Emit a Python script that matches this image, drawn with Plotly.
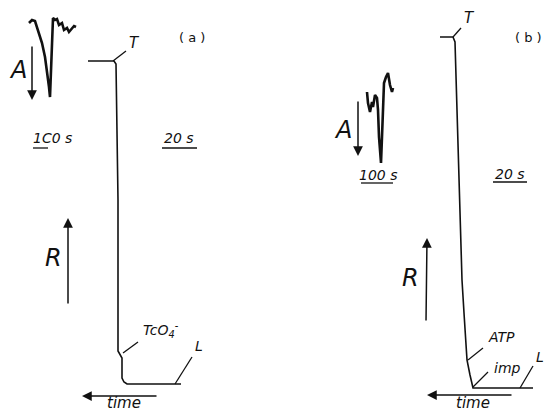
import plotly.graph_objects as go

# ---- data (page-pixel coordinate system of the scanned figure) ----
# Panel (a) main recorder trace (R signal)
a_main_x = [88, 114, 116, 118, 118, 121, 122, 122, 124, 127, 181]
a_main_y = [61, 61, 64, 200, 351, 356, 358, 378, 382, 384, 384]
# Panel (a) absorbance inset trace
a_abs_x = [29, 32, 35, 37, 39, 42, 45, 47, 49, 50, 51, 52, 53, 55, 57, 59, 62, 64, 67, 69, 72, 74, 76]
a_abs_y = [23, 20, 21, 27, 33, 43, 57, 70, 87, 97, 67, 33, 18, 20, 19, 25, 23, 30, 28, 32, 28, 26, 27]

# Panel (b) main recorder trace
b_main_x = [440, 453, 455, 458, 462, 464, 466, 467, 470, 473, 533]
b_main_y = [37, 37, 42, 140, 280, 313, 340, 360, 375, 388, 388]
# Panel (b) absorbance inset trace
b_abs_x = [367, 368, 370, 372, 373, 375, 377, 378, 379, 381, 382, 383, 384, 386, 388, 390, 392, 393]
b_abs_y = [92, 103, 112, 102, 107, 95, 98, 110, 137, 163, 137, 103, 83, 77, 73, 85, 92, 88]

# leader lines: (x0, y0, x1, y1)
leaders = [
    (113, 61, 126, 51),    # T (a)
    (123, 353, 138, 342),  # TcO4- (a)
    (175, 384, 192, 357),  # L (a)
    (453, 37, 461, 28),    # T (b)
    (468, 360, 483, 348),  # ATP (b)
    (473, 387, 488, 372),  # imp (b)
    (520, 388, 533, 366),  # L (b)
]
# scale bars (x0, x1, y)
scale_bars = [(33, 48, 148), (162, 197, 148), (361, 393, 183), (493, 527, 182)]

# text labels: (text, x, y, size, italic)
labels = [
    ("( a )", 192, 37, 13, False),
    ("( b )", 528, 37, 13, False),
    ("T", 134, 43, 15, True),
    ("T", 469, 18, 15, True),
    ("A", 18, 70, 24, True),
    ("A", 343, 130, 24, True),
    ("R", 53, 258, 24, True),
    ("R", 410, 278, 24, True),
    ("1C0 s", 52, 138, 14, True),
    ("20 s", 179, 138, 14, True),
    ("100 s", 378, 175, 14, True),
    ("20 s", 510, 174, 14, True),
    ("TcO<sub>4</sub><sup>-</sup>", 161, 330, 14, True),
    ("L", 199, 346, 14, True),
    ("ATP", 501, 337, 14, True),
    ("imp", 507, 368, 14, True),
    ("L", 540, 357, 14, True),
    ("time", 124, 403, 15, True),
    ("time", 473, 403, 15, True),
]
# arrows: (tail_x, tail_y, head_x, head_y)
arrows = [
    (32, 45, 32, 100),     # A (a)
    (68, 305, 68, 218),    # R (a)
    (158, 396, 82, 396),   # time (a)
    (358, 100, 358, 156),  # A (b)
    (426, 322, 427, 238),  # R (b)
    (513, 395, 427, 395),  # time (b)
]

fig = go.Figure()
line_col = "#111111"
fig.add_trace(go.Scatter(x=a_main_x, y=a_main_y, mode="lines",
                         line=dict(color=line_col, width=1.6), hoverinfo="skip"))
fig.add_trace(go.Scatter(x=b_main_x, y=b_main_y, mode="lines",
                         line=dict(color=line_col, width=1.6), hoverinfo="skip"))
fig.add_trace(go.Scatter(x=a_abs_x, y=a_abs_y, mode="lines",
                         line=dict(color=line_col, width=2.6), hoverinfo="skip"))
fig.add_trace(go.Scatter(x=b_abs_x, y=b_abs_y, mode="lines",
                         line=dict(color=line_col, width=2.6), hoverinfo="skip"))

for x0, y0, x1, y1 in leaders:
    fig.add_shape(type="line", x0=x0, y0=y0, x1=x1, y1=y1, xref="x", yref="y",
                  line=dict(color=line_col, width=1.3))
for x0, x1, y in scale_bars:
    fig.add_shape(type="line", x0=x0, y0=y, x1=x1, y1=y, xref="x", yref="y",
                  line=dict(color=line_col, width=1.3))

for t, x, y, s, it in labels:
    fig.add_annotation(x=x, y=y, text=t, showarrow=False, xref="x", yref="y",
                       font=dict(family="DejaVu Sans", size=s, color=line_col,
                                 style="italic" if it else "normal"))

for tx, ty, hx, hy in arrows:
    fig.add_annotation(x=hx, y=hy, ax=tx, ay=ty, xref="x", yref="y",
                       axref="x", ayref="y", text="", showarrow=True,
                       arrowhead=2, arrowsize=1.3, arrowwidth=1.5,
                       arrowcolor=line_col)

fig.update_layout(
    width=546, height=413, autosize=False,
    margin=dict(l=0, r=0, t=0, b=0),
    paper_bgcolor="white", plot_bgcolor="white",
    showlegend=False,
    xaxis=dict(range=[0, 546], visible=False, fixedrange=True),
    yaxis=dict(range=[413, 0], visible=False, fixedrange=True),
)
fig.write_html("out.html", config={"displayModeBar": False},
               post_script="document.body.style.margin='0px';document.body.style.overflow='hidden';")
